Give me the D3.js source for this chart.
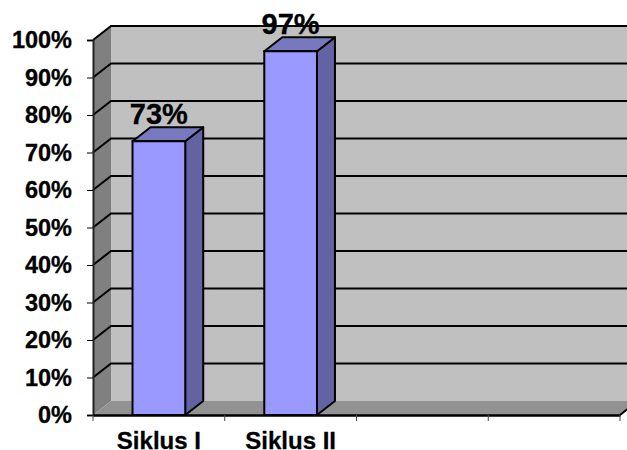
<!DOCTYPE html>
<html>
<head>
<meta charset="utf-8">
<script src="https://cdn.jsdelivr.net/npm/d3@7"></script>
<style>
  html, body { margin: 0; padding: 0; background: #fff; }
  text { font-family: "Liberation Sans", Arial, sans-serif; font-weight: bold; fill: #000; stroke: #000; stroke-width: 0.3px; }
</style>
</head>
<body>
<div id="chart"></div>
<script>
const categories = ["Siklus I", "Siklus II", "c3", "c4"];
const categoryLabels = ["Siklus I", "Siklus II", "", ""];
const values = [73, 97];
const yTicks = [0, 10, 20, 30, 40, 50, 60, 70, 80, 90, 100];

const width = 627, height = 450;
const plotLeft = 93, plotRight = 620, plotTop = 40, plotBottom = 415;
const depthX = 18, depthY = 14;   // offset of the back wall
const barPad = 0.3;

const svg = d3.select("#chart").append("svg")
  .attr("width", width)
  .attr("height", height)
  .style("display", "block");

const x = d3.scaleBand().domain(categories).range([plotLeft, plotRight]);
const y = d3.scaleLinear().domain([0, 100]).range([plotBottom, plotTop]);

const poly = pts => pts.map(p => p.join(",")).join(" ");

// back wall, side wall, floor
svg.append("polygon")
  .attr("points", poly([[plotLeft + depthX, y(100) - depthY], [plotRight + depthX, y(100) - depthY], [plotRight + depthX, y(0) - depthY], [plotLeft + depthX, y(0) - depthY]]))
  .attr("fill", "#c0c0c0");
svg.append("polygon")
  .attr("points", poly([[plotLeft, y(100)], [plotLeft + depthX, y(100) - depthY], [plotLeft + depthX, y(0) - depthY], [plotLeft, y(0)]]))
  .attr("fill", "#808080");
svg.append("polygon")
  .attr("points", poly([[plotLeft, y(0)], [plotLeft + depthX, y(0) - depthY], [plotRight + depthX, y(0) - depthY], [plotRight, y(0)]]))
  .attr("fill", "#929292");

// gridlines wrap around side wall and back wall
svg.append("g").selectAll("polyline")
  .data(yTicks.filter(d => d > 0))
  .join("polyline")
  .attr("points", d => poly([[plotLeft, y(d)], [plotLeft + depthX, y(d) - depthY], [plotRight + depthX, y(d) - depthY]]))
  .attr("fill", "none")
  .attr("stroke", "#000")
  .attr("stroke-width", 2);

// axes
const yAxis = svg.append("g")
  .attr("transform", "translate(" + plotLeft + ",0)")
  .call(d3.axisLeft(y).tickValues(yTicks).tickFormat(d => d + "%").tickSize(6).tickPadding(15));
yAxis.selectAll("text").style("font-size", "23.5px");
yAxis.select(".domain").attr("stroke", "#222").attr("stroke-width", 2);

const xAxis = svg.append("g")
  .attr("transform", "translate(0," + plotBottom + ")")
  .call(d3.axisBottom(x).tickFormat((d, i) => categoryLabels[i]).tickSize(0).tickPadding(17));
xAxis.select(".domain").attr("stroke", "#000").attr("stroke-width", 2.5);
xAxis.selectAll("text").style("font-size", "24px");

// ticks sit between the categories, not on them
svg.append("g").selectAll("line")
  .data([...categories.map(d => x(d)), plotRight])
  .join("line")
  .attr("x1", d => d).attr("x2", d => d)
  .attr("y1", plotBottom).attr("y2", plotBottom + 6)
  .attr("stroke", "#444");

// floor edge going up to the right
svg.append("line")
  .attr("x1", plotRight).attr("y1", plotBottom)
  .attr("x2", plotRight + depthX).attr("y2", plotBottom - depthY)
  .attr("stroke", "#000").attr("stroke-width", 2);

// bars
const bars = svg.append("g").selectAll("g")
  .data(values)
  .join("g");

const barLeft = (d, i) => x(categories[i]) + x.bandwidth() * barPad;
const barRight = (d, i) => x(categories[i]) + x.bandwidth() * (1 - barPad);

bars.append("polygon")
  .attr("points", (d, i) => poly([[barRight(d, i), y(0)], [barRight(d, i) + depthX, y(0) - depthY], [barRight(d, i) + depthX, y(d) - depthY], [barRight(d, i), y(d)]]))
  .attr("fill", "#6363a3").attr("stroke", "#000").attr("stroke-width", 2).attr("stroke-linejoin", "round");
bars.append("polygon")
  .attr("points", (d, i) => poly([[barLeft(d, i), y(d)], [barLeft(d, i) + depthX, y(d) - depthY], [barRight(d, i) + depthX, y(d) - depthY], [barRight(d, i), y(d)]]))
  .attr("fill", "#7878bf").attr("stroke", "#000").attr("stroke-width", 2).attr("stroke-linejoin", "round");
bars.append("rect")
  .attr("x", barLeft)
  .attr("y", d => y(d))
  .attr("width", (d, i) => barRight(d, i) - barLeft(d, i))
  .attr("height", d => y(0) - y(d))
  .attr("fill", "#9999ff").attr("stroke", "#000").attr("stroke-width", 2);

// value labels
bars.append("text")
  .attr("x", (d, i) => x(categories[i]) + x.bandwidth() / 2)
  .attr("y", d => y(d) - 17)
  .attr("text-anchor", "middle")
  .style("font-size", "29px")
  .text(d => d + "%");
</script>
</body>
</html>
